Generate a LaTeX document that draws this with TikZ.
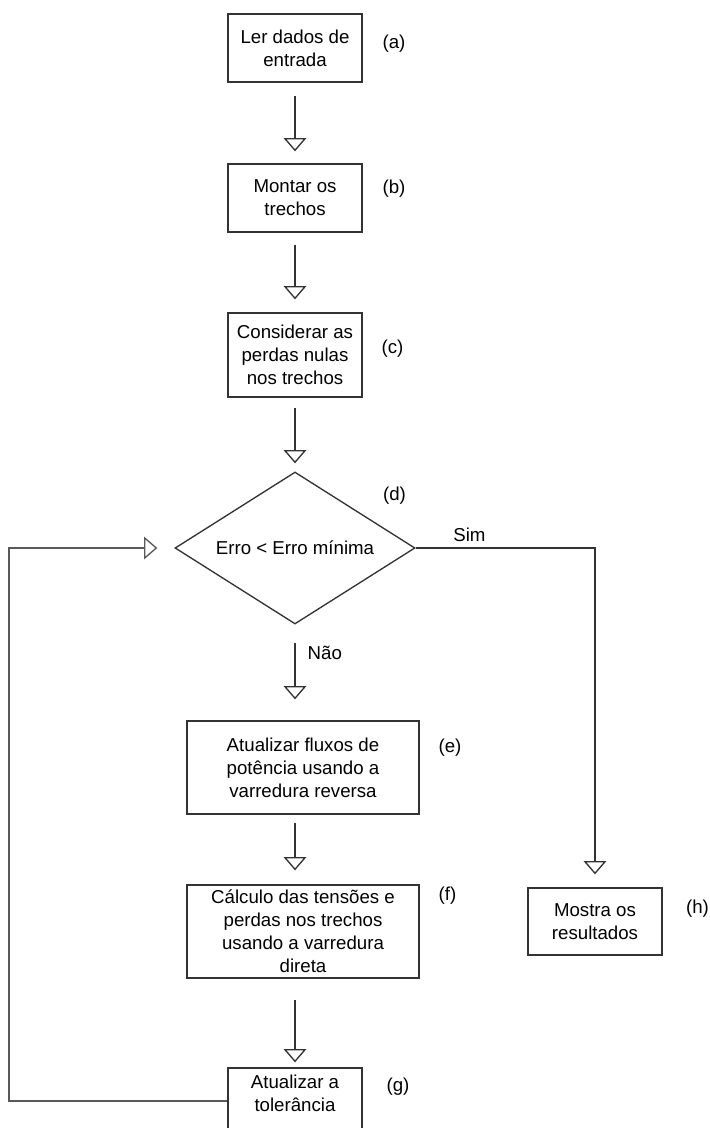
\documentclass[tikz,border=0pt]{standalone}
\usepackage{fontspec}
\setmainfont{Liberation Sans}
\usetikzlibrary{arrows.meta}
\usetikzlibrary{shapes.geometric}

\begin{document}
\begin{tikzpicture}[x=0.75pt, y=-0.75pt]
            \tikzset{caixa/.style={draw=black!80, line width=1pt, rectangle, align=center, inner sep=0pt, minimum width=100.5pt, minimum height=51pt, font=\fontsize{14}{17.25}\selectfont}}
            \tikzset{caixalarga/.style={caixa, minimum width=174pt, minimum height=69.75pt}}
            \tikzset{decisao/.style={draw=black!80, line width=1pt, diamond, aspect=1.58, inner sep=0pt, minimum width=180pt, minimum height=114pt, font=\fontsize{14}{17.25}\selectfont}}
            \tikzset{rotulo/.style={inner sep=0pt, font=\fontsize{14}{17.25}\selectfont}}
            \tikzset{seta/.style={draw=black!80, line width=1pt, -{Triangle[open, width=17pt, length=10pt]}}}
            \useasboundingbox (0,0) rectangle (710,1128);
            \node[caixa] (a) at (295,48) {Ler dados de\\entrada};
            \node[caixa] (b) at (295,198) {Montar os\\trechos};
            \node[caixa, minimum height=63pt] (c) at (295,355) {Considerar as\\perdas nulas\\nos trechos};
            \node[decisao] (d) at (295,548) {Erro < Erro mínima};
            \node[caixalarga] (e) at (303,767.5) {Atualizar fluxos de\\potência usando a\\varredura reversa};
            \node[caixalarga] (f) at (303,931.5) {Cálculo das tensões e\\perdas nos trechos\\usando a varredura\\direta};
            \node[caixa, minimum height=49.5pt] (g) at (295,1101) {\parbox[c][39.75pt][t]{99pt}{\centering Atualizar a\\tolerância}};
            \node[caixa, minimum height=50.25pt] (h) at (595,921.5) {Mostra os\\resultados};
            \node[rotulo] (la) at (394,44) {(a)};
            \node[rotulo] (lb) at (394,189) {(b)};
            \node[rotulo] (lc) at (392.5,349) {(c)};
            \node[rotulo] (ld) at (394.5,496) {(d)};
            \node[rotulo] (le) at (450,748) {(e)};
            \node[rotulo] (lf) at (447.5,896) {(f)};
            \node[rotulo] (lg) at (398,1087) {(g)};
            \node[rotulo] (lh) at (697.5,909) {(h)};
            \coordinate (volta) at (9,1101);
            \draw[seta, shorten <=9.75pt, shorten >=9pt] (a) -- (b);
            \draw[seta, shorten <=9pt, shorten >=9.75pt] (b) -- (c);
            \draw[seta, shorten <=7.5pt, shorten >=6pt] (c) -- (d);
            \draw[seta, shorten <=13.5pt, shorten >=15.75pt] (d.south) -- (d.south |- e.north)
                node[rotulo, pos=0.3, right=9pt] (nao) {Não};
            \draw[seta, shorten <=6pt, shorten >=10.5pt] (d.south |- e.south) -- (d.south |- f.north);
            \draw[seta, shorten <=15.75pt, shorten >=3.75pt] (d.south |- f.south) -- (d.south |- g.north);
            \draw[seta, shorten >=9.75pt] (d.east) -- (d.east -| h.north)
                node[rotulo, pos=0.3, above=4pt] (sim) {Sim} -- (h.north);
            \draw[seta, draw=black!65, shorten >=12.75pt] (g.west) -- (volta) -- (volta |- d.west) -- (d.west);
        \end{tikzpicture}
\end{document}
